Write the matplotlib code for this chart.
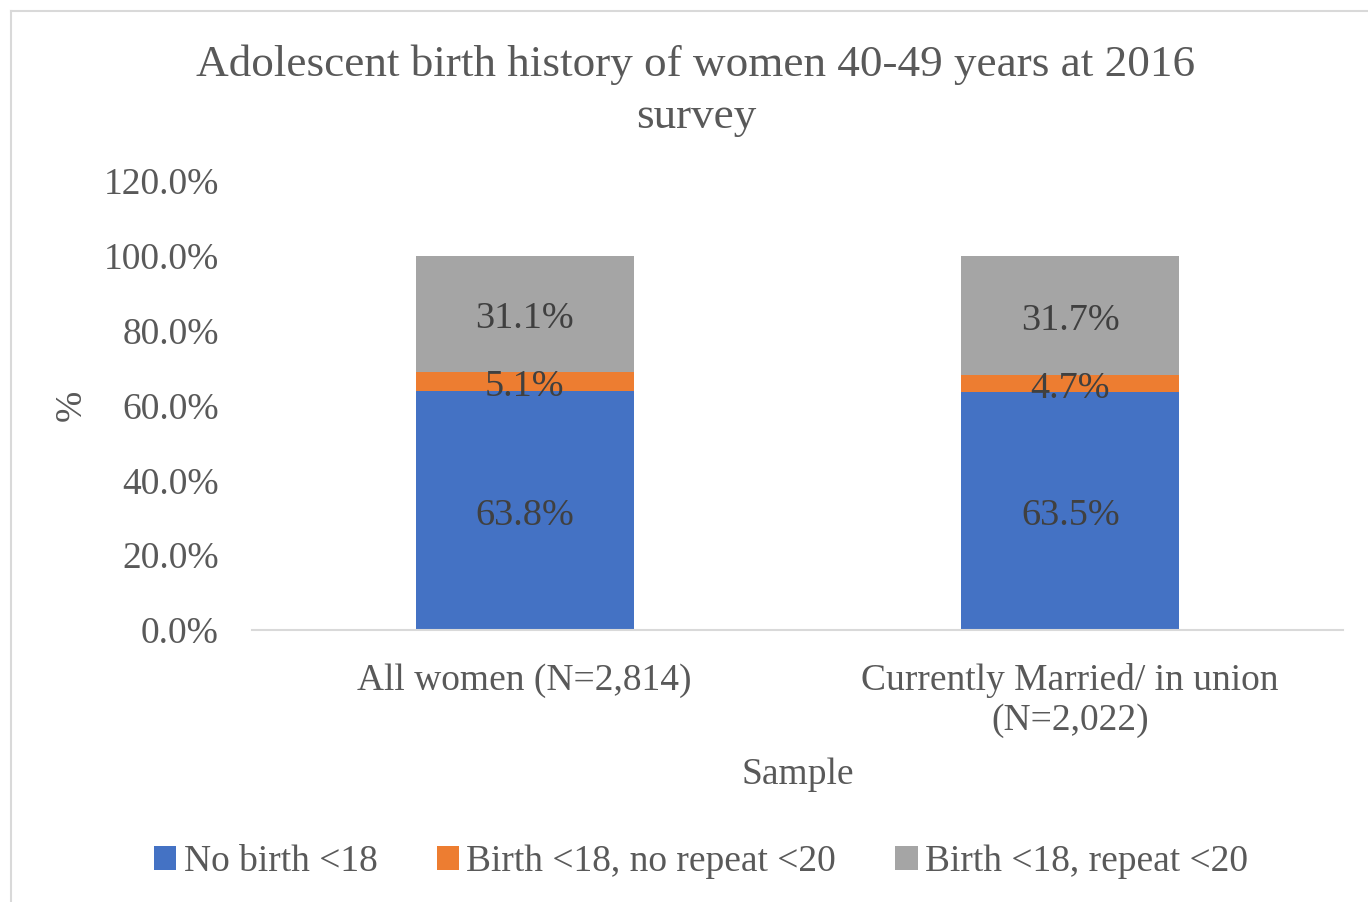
import matplotlib.pyplot as plt
import numpy as np
from matplotlib.lines import Line2D

plt.rcParams['font.family'] = ['Liberation Serif', 'DejaVu Serif']

categories = ['All women (N=2,814)', 'Currently Married/ in union\n(N=2,022)']
series_names = ['No birth <18', 'Birth <18, no repeat <20', 'Birth <18, repeat <20']
no_birth = [63.8, 63.5]
birth_no_repeat = [5.1, 4.7]
birth_repeat = [31.1, 31.7]
yticks = [0, 20, 40, 60, 80, 100, 120]

colors = ['#4472C4', '#ED7D31', '#A5A5A5']
txt = '#595959'
fs = 27

fig = plt.figure(figsize=(13.68, 9.02), dpi=100, facecolor='w')
ax = fig.add_axes([0.1842, 0.3016, 0.7975, 0.4977])

x = np.arange(len(categories))
bottom = np.zeros(len(categories))
for name, vals, c in zip(series_names, [no_birth, birth_no_repeat, birth_repeat], colors):
    bars = ax.bar(x, vals, width=0.4, bottom=bottom, color=c, label=name, zorder=2)
    for xi, b, v in zip(x, bottom, vals):
        ax.annotate('%.1f%%' % v, (xi, b + v / 2), xytext=(0, -3.5), textcoords='offset points',
                    ha='center', va='center', fontsize=27.5, color='#404040', zorder=3)
    bottom = bottom + np.array(vals)

ax.set_xlim(-0.5, 1.5)
ax.set_ylim(0, 120)
ax.set_yticks(yticks)
ax.set_yticklabels(['%.1f%%' % t for t in yticks])
ax.set_xticks(x)
ax.set_xticklabels(categories, linespacing=1.2)
ax.tick_params(axis='both', length=0, labelsize=fs, colors=txt)
ax.tick_params(axis='y', pad=24)
ax.tick_params(axis='x', pad=24)
for s in ['top', 'right', 'left']:
    ax.spines[s].set_visible(False)
ax.spines['bottom'].set_color('#D9D9D9')
ax.spines['bottom'].set_linewidth(1.5)

ax.set_xlabel('Sample', fontsize=fs, color=txt, labelpad=14)
fig.text(72 / 1368, 1 - 405 / 902, '%', rotation=90, fontsize=fs, color=txt,
         ha='center', va='center')

fig.text(696 / 1368, 1 - 91 / 902,
         'Adolescent birth history of women 40-49 years at 2016\nsurvey',
         fontsize=32.5, color=txt, ha='center', va='center', linespacing=1.38)

handles, labels = ax.get_legend_handles_labels()
fig.legend(handles, labels, loc='center', bbox_to_anchor=(701 / 1368, 1 - 862 / 902),
           ncol=3, frameon=False, fontsize=fs, labelcolor=txt,
           handlelength=0.6, handleheight=0.6, handletextpad=0.2, columnspacing=1.57)

# light frame on the left and top edge
fig.add_artist(Line2D([11 / 1368, 11 / 1368], [0, 1 - 11 / 902], transform=fig.transFigure,
                      color='#D9D9D9', lw=1.5))
fig.add_artist(Line2D([11 / 1368, 1], [1 - 11 / 902, 1 - 11 / 902], transform=fig.transFigure,
                      color='#D9D9D9', lw=1.5))

fig.savefig('out.png', dpi=100)
